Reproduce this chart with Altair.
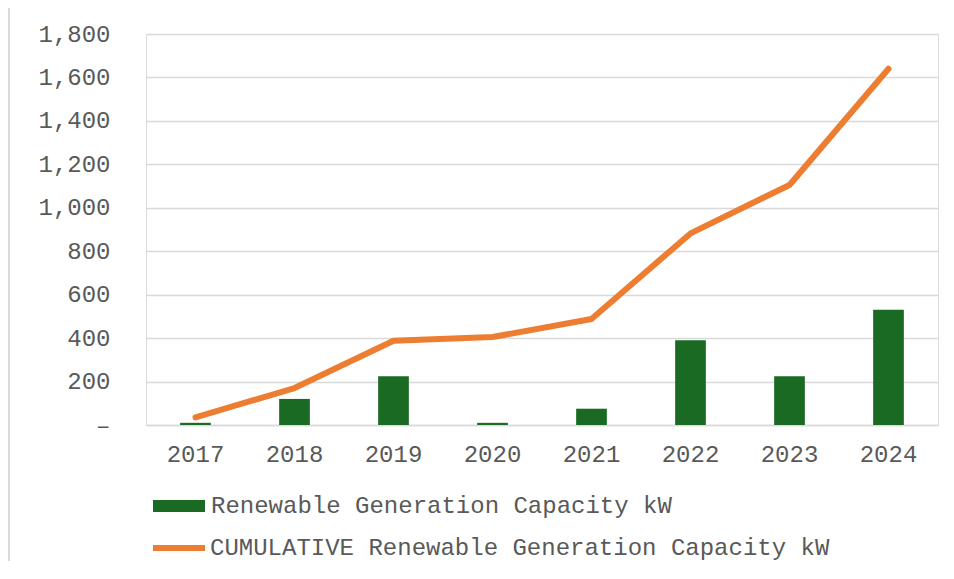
import altair as alt
import pandas as pd

years = ["2017", "2018", "2019", "2020", "2021", "2022", "2023", "2024"]
annual_kw = [10, 120, 225, 10, 75, 390, 225, 530]
cumulative_kw = [35, 170, 388, 405, 488, 882, 1105, 1640]
y_ticks = [0, 200, 400, 600, 800, 1000, 1200, 1400, 1600, 1800]

bar_name = "Renewable Generation Capacity kW"
line_name = "CUMULATIVE Renewable Generation Capacity kW"

df = pd.DataFrame({
    "year": years,
    "annual": annual_kw,
    "cumulative": cumulative_kw,
    "bar_series": [bar_name] * len(years),
    "line_series": [line_name] * len(years),
})

FONT = "Liberation Mono"
FS = 24
GREY = "#595959"
GREEN = "#1b6a24"
ORANGE = "#ED7D31"

x_enc = alt.X(
    "year:N",
    sort=years,
    title=None,
    scale=alt.Scale(paddingInner=0.69, paddingOuter=0.345),
    axis=alt.Axis(
        labelAngle=0,
        labelFont=FONT,
        labelFontSize=FS,
        labelColor=GREY,
        labelPadding=17,
        ticks=False,
        domain=True,
        domainColor="#d9d9d9",
        domainWidth=1.5,
        grid=False,
    ),
)

y_scale = alt.Scale(domain=[0, 1800], nice=False)

bars = alt.Chart(df).mark_bar(color=GREEN).encode(
    x=x_enc,
    y=alt.Y(
        "annual:Q",
        scale=y_scale,
        title=None,
        axis=alt.Axis(
            values=y_ticks,
            labelExpr="datum.value == 0 ? '–' : format(datum.value, ',')",
            labelFont=FONT,
            labelFontSize=FS,
            labelColor=GREY,
            labelPadding=36,
            ticks=False,
            domain=False,
            grid=True,
            gridColor="#d9d9d9",
            gridWidth=1.5,
        ),
    ),
    fill=alt.Fill(
        "bar_series:N",
        scale=alt.Scale(domain=[bar_name], range=[GREEN]),
        legend=alt.Legend(
            title=None,
            orient="none",
            legendX=7,
            legendY=446,
            symbolType="M-1,-0.23H1V0.23H-1Z",
            symbolSize=2704,
            symbolStrokeWidth=0,
            labelFont=FONT,
            labelFontSize=FS,
            labelColor=GREY,
            labelOffset=6,
            labelLimit=900,
        ),
    ),
)

line = alt.Chart(df).mark_line(color=ORANGE, strokeWidth=6, strokeCap="round", strokeJoin="round").encode(
    x=alt.X("year:N", sort=years),
    y=alt.Y("cumulative:Q", scale=y_scale),
    stroke=alt.Stroke(
        "line_series:N",
        scale=alt.Scale(domain=[line_name], range=[ORANGE]),
        legend=alt.Legend(
            title=None,
            orient="none",
            legendX=4,
            legendY=485,
            symbolType="stroke",
            symbolSize=2704,
            symbolStrokeWidth=6,
            labelFont=FONT,
            labelFontSize=FS,
            labelColor=GREY,
            labelOffset=2,
            labelLimit=900,
        ),
    ),
)

border = alt.Chart(df).mark_rule(color="#d9d9d9", strokeWidth=2, clip=False).encode(
    x=alt.value(-137),
    y=alt.value(-28),
    y2=alt.value(560),
)

chart = alt.layer(bars, line, border).resolve_scale(
    fill="independent", stroke="independent"
).properties(
    width=792,
    height=391,
    padding={"left": 138, "top": 26, "right": 4, "bottom": 136},
    autosize=alt.AutoSizeParams(type="none"),
).configure_view(stroke=None).configure(background="white")

chart.save("out.html", embed_options={"renderer": "svg", "actions": False})
